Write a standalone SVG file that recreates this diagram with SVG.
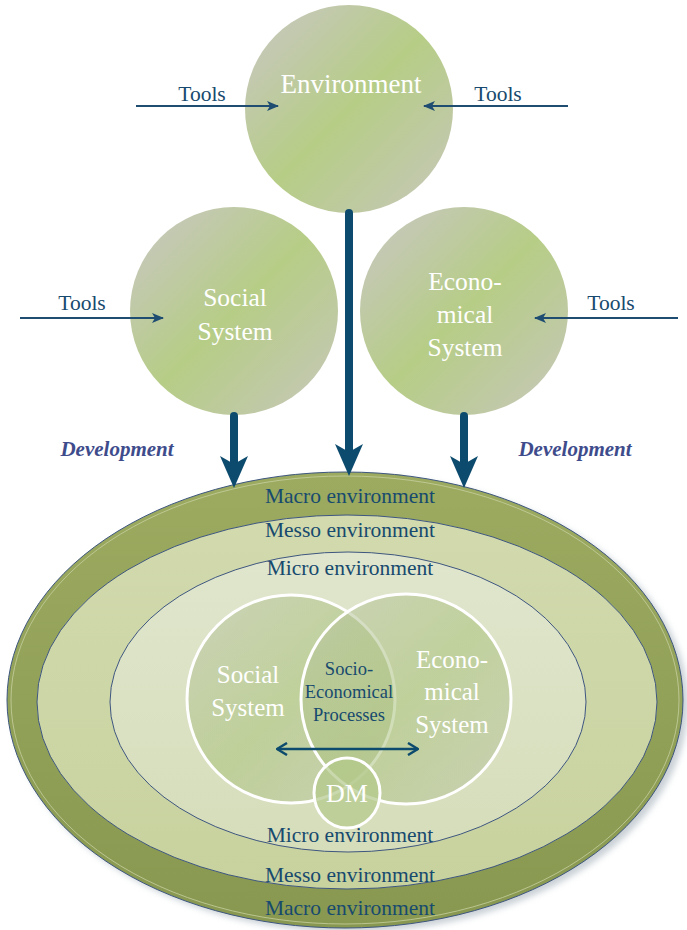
<svg xmlns="http://www.w3.org/2000/svg" width="687" height="930" viewBox="0 0 687 930">
<defs>
<linearGradient id="ball" x1="0" y1="0" x2="1" y2="1">
<stop offset="0" stop-color="#c9cac0"/>
<stop offset="0.2" stop-color="#c2c9ad"/>
<stop offset="0.5" stop-color="#b6cd86"/>
<stop offset="0.8" stop-color="#c0c9a6"/>
<stop offset="1" stop-color="#c9cac0"/>
</linearGradient>
<linearGradient id="vball" x1="0" y1="0" x2="1" y2="1">
<stop offset="0" stop-color="#bcc4a8"/>
<stop offset="0.5" stop-color="#a9c27a"/>
<stop offset="1" stop-color="#bcc4a8"/>
</linearGradient>
<linearGradient id="macro" x1="0" y1="0" x2="0" y2="1">
<stop offset="0" stop-color="#9cab60"/>
<stop offset="1" stop-color="#889850"/>
</linearGradient>
<linearGradient id="messo" x1="0" y1="0" x2="0" y2="1">
<stop offset="0" stop-color="#d2daae"/>
<stop offset="1" stop-color="#c8d29e"/>
</linearGradient>
<linearGradient id="micro" x1="0" y1="0" x2="0" y2="1">
<stop offset="0" stop-color="#e0e6cd"/>
<stop offset="1" stop-color="#d6ddba"/>
</linearGradient>
<filter id="blur" x="-10%" y="-10%" width="120%" height="120%"><feGaussianBlur stdDeviation="3"/></filter>
<marker id="ah" viewBox="0 0 12 10" refX="11" refY="5" markerWidth="12" markerHeight="10" markerUnits="userSpaceOnUse" orient="auto">
<path d="M0,0 L12,5 L0,10 L3,5 Z" fill="#1f4d72"/>
</marker>
<marker id="chev" viewBox="0 0 12 14" refX="11" refY="7" markerWidth="12" markerHeight="14" markerUnits="userSpaceOnUse" orient="auto-start-reverse">
<path d="M1,1 L11,7 L1,13" fill="none" stroke="#0d4b6e" stroke-width="2.5"/>
</marker>
</defs>
<style>
.lbl{font-family:"Liberation Serif","Times New Roman",serif;fill:#174a6e;text-anchor:middle}
.wt{font-family:"Liberation Serif","Times New Roman",serif;fill:#ffffff;text-anchor:middle}
.dev{font-family:"Liberation Serif","Times New Roman",serif;fill:#3e4c8c;font-style:italic;font-weight:bold;font-size:21px;text-anchor:middle}
.tool{stroke:#1f4d72;stroke-width:2;fill:none}
.thick{stroke:#0d4b6e;stroke-width:8;fill:none}
.head{fill:#0d4b6e}
.env{font-size:21.5px}
</style>

<g id="environment-rings">
<ellipse cx="350" cy="704" rx="338" ry="228" fill="#c9d0d6" filter="url(#blur)"/>
<ellipse cx="345" cy="700" rx="338" ry="228" fill="url(#macro)" stroke="#3e5680" stroke-width="1"/>
<ellipse cx="345" cy="700" rx="334" ry="224" fill="none" stroke="#c6cfa0" stroke-width="0.8"/>
<ellipse cx="347" cy="702" rx="310" ry="187" fill="url(#messo)" stroke="#3e5680" stroke-width="1"/>
<ellipse cx="348" cy="702" rx="238" ry="150" fill="url(#micro)" stroke="#3e5680" stroke-width="1"/>
<text class="lbl env" x="350" y="503">Macro environment</text>
<text class="lbl env" x="350" y="537">Messo environment</text>
<text class="lbl env" x="350" y="575">Micro environment</text>
<text class="lbl env" x="350" y="842">Micro environment</text>
<text class="lbl env" x="350" y="882">Messo environment</text>
<text class="lbl env" x="350" y="915">Macro environment</text>
</g>

<g id="venn-social">
<circle cx="291" cy="699" r="104" fill="url(#vball)" fill-opacity="0.55" stroke="#ffffff" stroke-width="3"/>
</g>
<g id="venn-economical">
<circle cx="406" cy="699" r="105" fill="url(#vball)" fill-opacity="0.55" stroke="#ffffff" stroke-width="3"/>
</g>
<g id="venn-dm">
<ellipse cx="347" cy="793" rx="33" ry="35" fill="#b3c98a" fill-opacity="0.7" stroke="#ffffff" stroke-width="3"/>
<text class="wt" x="347" y="802" font-size="26">DM</text>
</g>
<g id="venn-labels">
<text class="wt" x="248" y="683" font-size="25">Social</text>
<text class="wt" x="248" y="716" font-size="25">System</text>
<text class="wt" x="452" y="668" font-size="25">Econo-</text>
<text class="wt" x="452" y="700" font-size="25">mical</text>
<text class="wt" x="452" y="733" font-size="25">System</text>
<text class="lbl" x="349" y="675" font-size="18.5">Socio-</text>
<text class="lbl" x="349" y="698" font-size="18.5">Economical</text>
<text class="lbl" x="349" y="721" font-size="18.5">Processes</text>
</g>

<g id="environment">
<circle cx="349" cy="109" r="104" fill="url(#ball)"/>
<text class="wt" x="351" y="93" font-size="27">Environment</text>
</g>
<g id="social-system">
<circle cx="234" cy="311" r="104" fill="url(#ball)"/>
<text class="wt" x="235" y="306" font-size="25.5">Social</text>
<text class="wt" x="235" y="340" font-size="25.5">System</text>
</g>
<g id="economical-system">
<circle cx="464" cy="311" r="104" fill="url(#ball)"/>
<text class="wt" x="465" y="290" font-size="25.5">Econo-</text>
<text class="wt" x="465" y="323" font-size="25.5">mical</text>
<text class="wt" x="465" y="356" font-size="25.5">System</text>
</g>

<g id="connectors">
<line class="tool" x1="136" y1="106" x2="278" y2="106" marker-end="url(#ah)"/>
<line class="tool" x1="568" y1="106" x2="424" y2="106" marker-end="url(#ah)"/>
<line class="tool" x1="20" y1="318" x2="163" y2="318" marker-end="url(#ah)"/>
<line class="tool" x1="678" y1="318" x2="535" y2="318" marker-end="url(#ah)"/>
<text class="lbl" x="202" y="101" font-size="21.5">Tools</text>
<text class="lbl" x="498" y="101" font-size="21.5">Tools</text>
<text class="lbl" x="82" y="310" font-size="21.5">Tools</text>
<text class="lbl" x="611" y="310" font-size="21.5">Tools</text>

<line class="thick" x1="349" y1="213" x2="349" y2="455" stroke-linecap="round"/>
<path class="head" d="M349,476 L335,444 L349,452 L363,444 Z"/>
<line class="thick" x1="234" y1="416" x2="234" y2="466" stroke-linecap="round"/>
<path class="head" d="M234,488 L220,456 L234,464 L248,456 Z"/>
<line class="thick" x1="464" y1="416" x2="464" y2="466" stroke-linecap="round"/>
<path class="head" d="M464,488 L450,456 L464,464 L478,456 Z"/>
<text class="dev" x="117" y="456">Development</text>
<text class="dev" x="575" y="456">Development</text>

<line x1="277" y1="749" x2="418" y2="749" stroke="#0d4b6e" stroke-width="2.5" marker-start="url(#chev)" marker-end="url(#chev)"/>
</g>
</svg>
